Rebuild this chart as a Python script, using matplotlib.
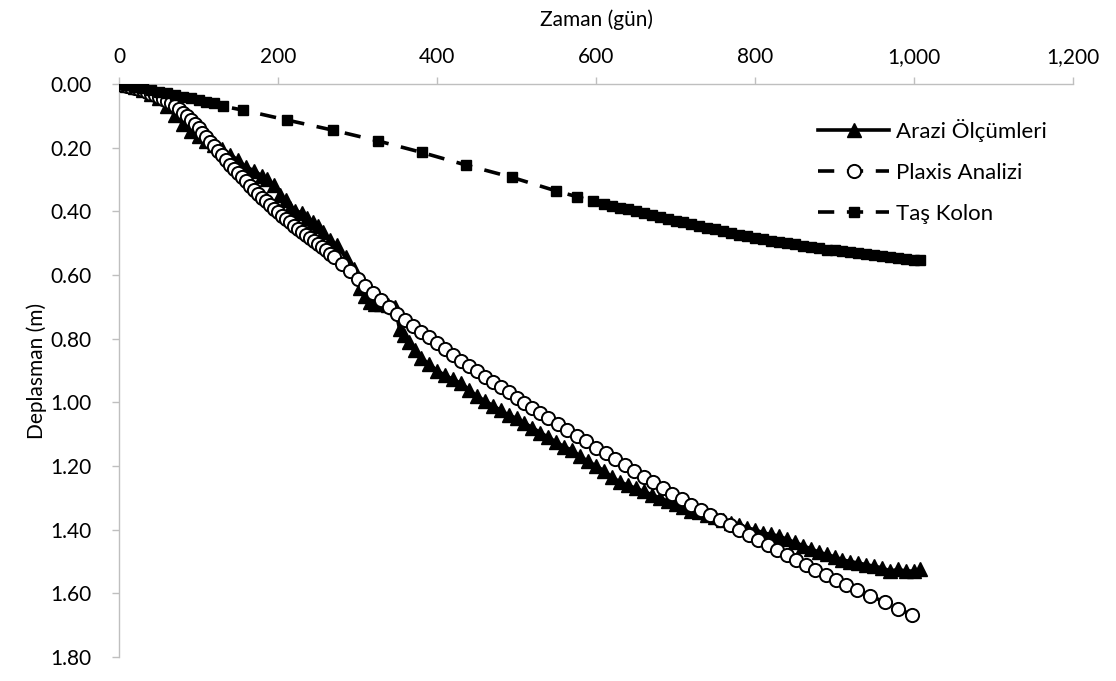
import matplotlib
matplotlib.use("Agg")
import matplotlib.pyplot as plt
from matplotlib.ticker import FuncFormatter, MultipleLocator

plt.rcParams['font.family'] = ['Lato', 'DejaVu Sans']

# ---------------- data ----------------
arazi_days = [0, 10, 20, 30, 40, 50, 60, 70, 80, 90, 100, 110, 120, 130, 140, 150, 160,
              170, 180, 186, 195, 203, 210, 215, 222, 230, 237, 244, 250, 257, 265, 274,
              285, 295, 303, 310, 316, 322, 330, 338, 347, 353, 358, 365, 372, 380, 390,
              400, 410, 420, 430, 440, 450, 460, 470, 480, 490, 500, 510, 520, 530, 540,
              550, 560, 570, 580, 590, 600, 610, 620, 630, 640, 650, 660, 670, 680, 690,
              700, 710, 720, 730, 740, 750, 760, 770, 780, 790, 800, 810, 820, 830, 840,
              850, 860, 870, 880, 890, 900, 910, 920, 930, 940, 950, 960, 970, 980, 990,
              1000, 1008]
arazi_disp = [0.000, 0.004, 0.010, 0.018, 0.030, 0.045, 0.068, 0.098, 0.125, 0.148, 0.163,
              0.178, 0.192, 0.205, 0.222, 0.240, 0.262, 0.272, 0.290, 0.298, 0.318, 0.348,
              0.365, 0.390, 0.398, 0.405, 0.420, 0.432, 0.445, 0.465, 0.490, 0.505, 0.545,
              0.580, 0.640, 0.665, 0.685, 0.690, 0.692, 0.695, 0.700, 0.770, 0.790, 0.810,
              0.835, 0.860, 0.880, 0.900, 0.915, 0.928, 0.940, 0.960, 0.980, 0.995, 1.010,
              1.025, 1.040, 1.050, 1.065, 1.080, 1.095, 1.110, 1.125, 1.140, 1.150, 1.170,
              1.185, 1.200, 1.215, 1.235, 1.250, 1.260, 1.270, 1.280, 1.290, 1.300, 1.310,
              1.320, 1.330, 1.340, 1.345, 1.355, 1.360, 1.370, 1.380, 1.385, 1.395, 1.400,
              1.410, 1.415, 1.420, 1.430, 1.440, 1.450, 1.460, 1.470, 1.478, 1.485, 1.495,
              1.500, 1.505, 1.510, 1.515, 1.520, 1.530, 1.525, 1.530, 1.530, 1.525]

plaxis_days = [0, 5, 10, 15, 20, 25, 30, 35, 40, 45, 50, 55, 60, 65, 70, 75, 80, 85, 90, 95,
               100, 105, 110, 115, 120, 125, 130, 135, 140, 145, 150, 155, 160, 165, 170,
               175, 180, 185, 190, 195, 200, 205, 210, 215, 220, 225, 230, 235, 240, 245,
               250, 255, 260, 265, 270, 280, 290, 300, 310, 320, 330, 340, 350, 360, 370,
               380, 390, 400, 410, 420, 430, 440, 450, 460, 470, 480, 490, 500, 510, 520,
               530, 540, 552, 564, 576, 588, 600, 612, 624, 636, 648, 660, 672, 684, 696,
               708, 720, 732, 744, 756, 768, 780, 792, 804, 816, 828, 840, 852, 864, 876,
               889, 902, 915, 928, 945, 963, 980, 998]
plaxis_disp = [0.000, 0.002, 0.005, 0.008, 0.012, 0.016, 0.020, 0.025, 0.030, 0.035, 0.041,
               0.046, 0.052, 0.061, 0.070, 0.080, 0.090, 0.102, 0.114, 0.127, 0.139, 0.153,
               0.167, 0.181, 0.195, 0.210, 0.224, 0.238, 0.253, 0.267, 0.280, 0.293, 0.306,
               0.319, 0.332, 0.344, 0.357, 0.369, 0.381, 0.392, 0.403, 0.414, 0.425, 0.435,
               0.445, 0.455, 0.465, 0.475, 0.485, 0.494, 0.504, 0.513, 0.523, 0.533, 0.543,
               0.565, 0.588, 0.612, 0.634, 0.656, 0.678, 0.700, 0.722, 0.742, 0.760, 0.778,
               0.796, 0.815, 0.834, 0.852, 0.869, 0.886, 0.903, 0.920, 0.937, 0.953, 0.969,
               0.985, 1.001, 1.017, 1.033, 1.049, 1.068, 1.086, 1.105, 1.123, 1.142, 1.160,
               1.179, 1.197, 1.215, 1.233, 1.251, 1.269, 1.287, 1.305, 1.322, 1.338, 1.354,
               1.370, 1.386, 1.401, 1.416, 1.431, 1.447, 1.463, 1.479, 1.495, 1.511, 1.526,
               1.542, 1.558, 1.575, 1.590, 1.607, 1.628, 1.648, 1.668]

tas_days = [0, 10, 20, 30, 40, 50, 60, 70, 80, 90, 100, 110, 120, 131, 156, 211, 269, 326,
            381, 437, 494, 550, 576, 596, 610, 620, 630, 640, 650, 660, 670, 680, 690, 700,
            710, 720, 730, 740, 750, 760, 770, 780, 790, 800, 810, 820, 830, 840, 850, 860,
            870, 880, 890, 900, 910, 920, 930, 940, 950, 960, 970, 980, 990, 1000, 1007]
tas_disp = [0.000, 0.004, 0.009, 0.014, 0.019, 0.024, 0.029, 0.034, 0.040, 0.045, 0.050,
            0.055, 0.060, 0.070, 0.082, 0.113, 0.145, 0.179, 0.215, 0.255, 0.293, 0.336,
            0.354, 0.368, 0.376, 0.382, 0.388, 0.394, 0.400, 0.406, 0.412, 0.418, 0.424,
            0.429, 0.434, 0.440, 0.446, 0.451, 0.457, 0.463, 0.469, 0.474, 0.479, 0.484,
            0.488, 0.492, 0.496, 0.500, 0.504, 0.508, 0.512, 0.516, 0.520, 0.523, 0.526,
            0.529, 0.532, 0.535, 0.538, 0.541, 0.544, 0.547, 0.550, 0.552, 0.554]

series_names = ["Arazi Ölçümleri", "Plaxis Analizi", "Taş Kolon"]
x_label = "Zaman (gün)"
y_label = "Deplasman (m)"

# ---------------- figure ----------------
fig = plt.figure(figsize=(11.16, 6.81), dpi=100)
ax = fig.add_axes([119 / 1116, 24 / 681, (1073 - 119) / 1116, (657 - 84) / 681])

dash = (0, (4.5, 3.5))
ax.plot(arazi_days, arazi_disp, color='black', lw=2.6, marker='^', markersize=10.5,
        markerfacecolor='black', markeredgecolor='black', label=series_names[0], zorder=3)
ax.plot(plaxis_days, plaxis_disp, color='black', lw=2.6, linestyle=dash, marker='o',
        markersize=9.5, markerfacecolor='white', markeredgecolor='black',
        markeredgewidth=1.4, label=series_names[1], zorder=4)
ax.plot(tas_days, tas_disp, color='black', lw=2.6, linestyle=dash, marker='s',
        markersize=7, markerfacecolor='black', markeredgecolor='black',
        label=series_names[2], zorder=5)

ax.set_xlim(0, 1200)
ax.set_ylim(1.8, 0)
ax.xaxis.set_major_locator(MultipleLocator(200))
ax.yaxis.set_major_locator(MultipleLocator(0.2))
ax.xaxis.set_major_formatter(FuncFormatter(lambda v, p: f"{int(round(v)):,}"))
ax.yaxis.set_major_formatter(FuncFormatter(lambda v, p: f"{v:.2f}"))

ax.xaxis.tick_top()
ax.xaxis.set_label_position('top')
grey = '#bfbfbf'
for s in ['right', 'bottom']:
    ax.spines[s].set_visible(False)
for s in ['left', 'top']:
    ax.spines[s].set_color(grey)
    ax.spines[s].set_linewidth(1.0)
ax.tick_params(axis='x', which='major', direction='out', length=5, width=1, color=grey,
               labelsize=15, pad=7, labelcolor='#000000')
ax.tick_params(axis='y', which='major', direction='out', length=5, width=1, color=grey,
               labelsize=15, pad=15, labelcolor='#000000')

ax.set_xlabel(x_label, fontsize=15, labelpad=15)
ax.set_ylabel(y_label, fontsize=15, labelpad=2)

leg = fig.legend(loc='upper left', bbox_to_anchor=(818 / 1116, 1 - 119 / 681),
                 frameon=False, fontsize=16, handlelength=3.2, handletextpad=0.3,
                 labelspacing=0.95, borderpad=0, borderaxespad=0, numpoints=1)

fig.savefig("out.png", dpi=100)
